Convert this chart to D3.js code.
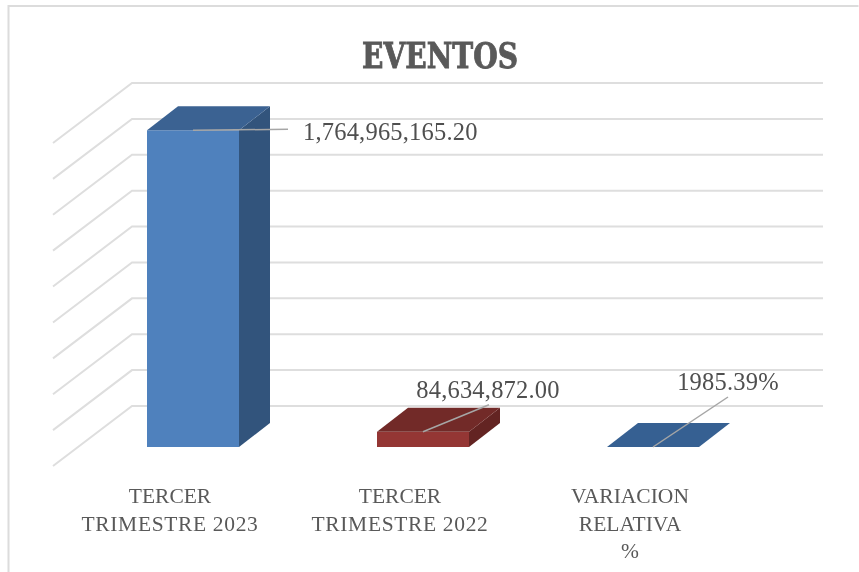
<!DOCTYPE html>
<html><head><meta charset="utf-8">
<script src="https://cdn.jsdelivr.net/npm/d3@7/dist/d3.min.js"></script>
<style>html,body{margin:0;padding:0;background:#fff}svg{display:block;filter:blur(0.35px)}</style>
</head><body><svg id="c" width="859" height="572"></svg>
<script>
const title = "EVENTOS";
const categories = ["TERCER TRIMESTRE 2023","TERCER TRIMESTRE 2022","VARIACION RELATIVA %"];
const categoryLines = [["TERCER","TRIMESTRE 2023"],["TERCER","TRIMESTRE 2022"],["VARIACION","RELATIVA","%"]];
const values = [1764965165.20, 84634872.00, 1985.39];
const valueLabels = ["1,764,965,165.20","84,634,872.00","1985.39%"];
const gridTicks = [0,2e8,4e8,6e8,8e8,1e9,1.2e9,1.4e9,1.6e9,1.8e9];
const frontColors = ["#4f81bd","#943634","#4f81bd"];
const sideColors = ["#32547c","#632422","#32547c"];
const topColors = ["#3b6292","#722a28","#366092"];

const svg = d3.select("#c");
const serif = "'Liberation Serif', serif";
const W = 859;
svg.append("rect").attr("width",W).attr("height",572).attr("fill","#fff");
svg.append("path").attr("d","M858.5,6H8.5V572").attr("fill","none").attr("stroke","#dcdcdc").attr("stroke-width",2);

const y = d3.scaleLinear().domain([0,1.8e9]).range([406,83]);
const x = d3.scaleBand().domain(categories).range([78,768]).paddingInner(0.6).paddingOuter(0.3);
const wallDX = 79, wallDY = 60, wallX = 132, wallEnd = 823;
const barDY = 41, depthX = 31, depthY = 24;

svg.append("g").selectAll("path").data(gridTicks).join("path")
  .attr("d",t=>`M${wallX-wallDX},${y(t)+wallDY}L${wallX},${y(t)}H${wallEnd}`)
  .attr("fill","none").attr("stroke","#dedede").attr("stroke-width",2);

const bars = svg.append("g").selectAll("g").data(categories).join("g");
bars.each(function(c,i){
  const g = d3.select(this);
  const x0 = x(c), x1 = x0 + x.bandwidth();
  const yb = y(0)+barDY, yt = y(values[i])+barDY;
  g.append("path").attr("fill",sideColors[i])
    .attr("d",`M${x1},${yb}L${x1+depthX},${yb-depthY}V${yt-depthY}L${x1},${yt}Z`);
  g.append("rect").attr("x",x0).attr("y",yt).attr("width",x.bandwidth()).attr("height",yb-yt).attr("fill",frontColors[i]);
  g.append("path").attr("fill",topColors[i])
    .attr("d",`M${x0},${yt}L${x0+depthX},${yt-depthY}H${x1+depthX}L${x1},${yt}Z`);
});

const leaderEnd = [[95,-1],[66,-27],[75,-50]];
const labelAt = [[110,9.5,"start"],[65,-34,"middle"],[75,-57,"middle"]];
categories.forEach((c,i)=>{
  const cx = x(c)+x.bandwidth()/2, cy = y(values[i])+barDY;
  svg.append("line").attr("x1",cx).attr("y1",cy)
    .attr("x2",cx+leaderEnd[i][0]).attr("y2",cy+leaderEnd[i][1])
    .attr("stroke","#a6a6a6").attr("stroke-width",1.5);
  svg.append("text").attr("x",cx+labelAt[i][0]).attr("y",cy+labelAt[i][1])
    .attr("text-anchor",labelAt[i][2]).attr("font-family",serif).attr("font-size",24.5)
    .attr("letter-spacing",0.2).attr("fill","#4f4f4f").text(valueLabels[i]);
});

categories.forEach((c,i)=>{
  const t = svg.append("text").attr("text-anchor","middle").attr("font-family",serif)
    .attr("font-size",21.5).attr("fill","#595959");
  categoryLines[i].forEach((s,k)=>{
    t.append("tspan").attr("x",x(c)+x.bandwidth()/2-23).attr("y",503+k*27.5)
      .attr("letter-spacing",/\d/.test(s)?0.65:0).text(s);
  });
});

svg.append("text").attr("x",440).attr("y",68).attr("text-anchor","middle")
  .attr("font-family","'DejaVu Serif', serif").attr("font-weight","bold").attr("font-size",35)
  .attr("textLength",156).attr("lengthAdjust","spacingAndGlyphs")
  .attr("fill","#595959").attr("stroke","#595959").attr("stroke-width",0.9).text(title);
</script></body></html>
